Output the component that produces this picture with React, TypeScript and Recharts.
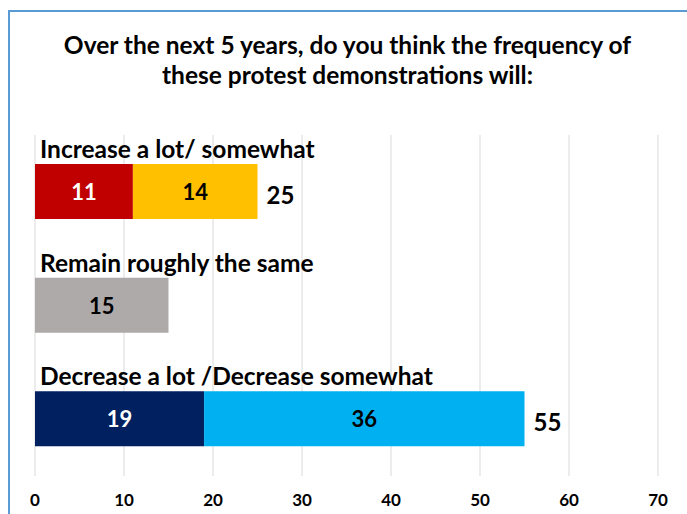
import React from "react";
import { BarChart, Bar, XAxis, YAxis, CartesianGrid, Cell, LabelList } from "recharts";

const categories = ["Increase a lot/ somewhat", "Remain roughly the same", "Decrease a lot /Decrease somewhat"];
const firstValues = [11, 15, 19];
const secondValues: (number | null)[] = [14, null, 36];
const totals: (number | null)[] = [25, null, 55];
const firstColors = ["#C00000", "#AEAAAA", "#002060"];
const secondColors = ["#FFC000", "#FFC000", "#00B0F0"];
const firstTextColors = ["#FFFFFF", "#000000", "#FFFFFF"];
const xTicks = [0, 10, 20, 30, 40, 50, 60, 70];

const data = categories.map((name, i) => ({
  name,
  first: firstValues[i],
  second: secondValues[i],
  total: totals[i],
}));

const FONT = "Lato, 'Open Sans', sans-serif";

const CategoryLabel = (props: any) => {
  const { x, y, value } = props;
  return (
    <text x={x + 5} y={y - 6} fontFamily={FONT} fontWeight={700} fontSize={24.5} fill="#000">
      {value}
    </text>
  );
};

const FirstValueLabel = (props: any) => {
  const { x, y, width, height, value } = props;
  const i = firstValues.indexOf(value);
  return (
    <text x={x + width / 2} y={y + height / 2} textAnchor="middle" dominantBaseline="central" fontFamily={FONT} fontWeight={700} fontSize={22} fill={firstTextColors[i] || "#000"}>
      {value}
    </text>
  );
};

const SecondValueLabel = (props: any) => {
  const { x, y, width, height, value } = props;
  if (value == null) return null;
  return (
    <text x={x + width / 2} y={y + height / 2} textAnchor="middle" dominantBaseline="central" fontFamily={FONT} fontWeight={700} fontSize={22} fill="#000">
      {value}
    </text>
  );
};

const TotalLabel = (props: any) => {
  const { x, y, width, height, value } = props;
  if (value == null) return null;
  return (
    <text x={x + width + 9} y={y + height / 2 + 3} textAnchor="start" dominantBaseline="central" fontFamily={FONT} fontWeight={700} fontSize={24} fill="#000">
      {value}
    </text>
  );
};

export default function App() {
  return (
    <div style={{ position: "absolute", left: 0, top: 0, width: 687, height: 514, background: "#fff", overflow: "hidden" }}>
      <div style={{ position: "absolute", left: 8, top: 10, width: 800, height: 600, borderLeft: "2px solid #5B9BD5", borderTop: "2px solid #5B9BD5" }} />
      <div style={{ position: "absolute", left: 0, top: 30, width: 687, textAlign: "center", fontFamily: FONT, fontWeight: 700, fontSize: 24.5, lineHeight: "30px", color: "#000" }}>
        <div style={{ marginLeft: 8 }}>Over the next 5 years, do you think the frequency of</div>
        <div style={{ marginLeft: 8 }}>these protest demonstrations will:</div>
      </div>
      <div style={{ position: "absolute", left: 0, top: 0 }}>
        <BarChart width={687} height={514} data={data} layout="vertical" margin={{ top: 135, right: 29, bottom: 9, left: 35 }} barSize={55}>
          <CartesianGrid horizontal={false} vertical={true} stroke="#D9D9D9" />
          <XAxis type="number" domain={[0, 70]} ticks={xTicks} axisLine={false} tickLine={false} height={29} tickMargin={12}
            tick={{ fontFamily: FONT, fontWeight: 700, fontSize: 17, fill: "#000" }} interval={0} />
          <YAxis type="category" dataKey="name" hide width={0} />
          <Bar dataKey="first" stackId="a" isAnimationActive={false}>
            {data.map((d, i) => <Cell key={i} fill={firstColors[i]} />)}
            <LabelList dataKey="first" content={FirstValueLabel} />
            <LabelList dataKey="name" content={CategoryLabel} />
          </Bar>
          <Bar dataKey="second" stackId="a" isAnimationActive={false}>
            {data.map((d, i) => <Cell key={i} fill={secondColors[i]} />)}
            <LabelList dataKey="second" content={SecondValueLabel} />
            <LabelList dataKey="total" content={TotalLabel} />
          </Bar>
        </BarChart>
      </div>
    </div>
  );
}
